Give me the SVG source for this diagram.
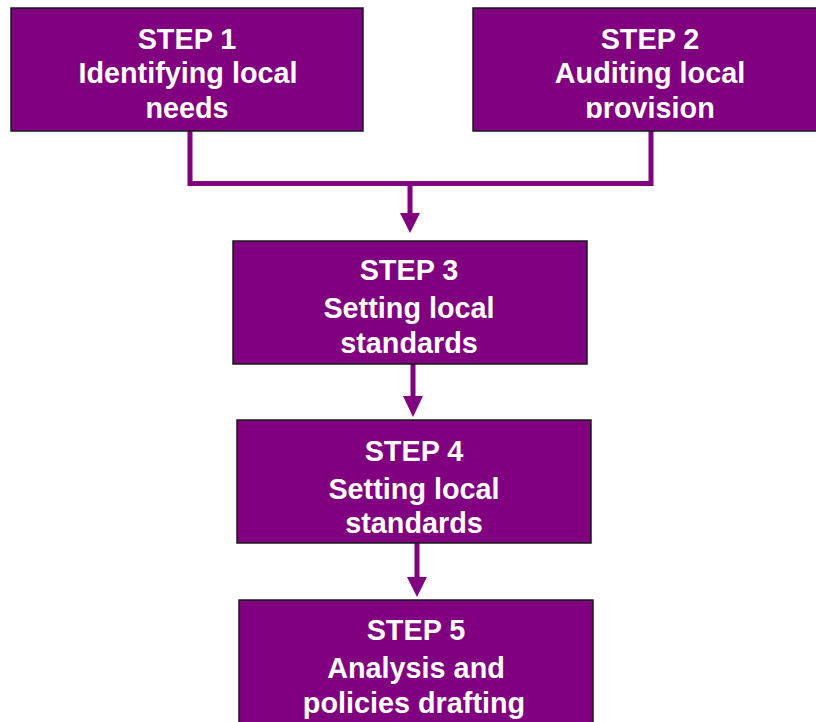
<svg xmlns="http://www.w3.org/2000/svg" width="816" height="722" viewBox="0 0 816 722">
<style>
.box{fill:#800080;stroke:#1a1a1a;stroke-width:1.5}
.t{font-family:"Liberation Sans",Arial,sans-serif;font-weight:bold;font-size:28.8px;fill:#ffffff;text-anchor:middle}
.c{fill:none;stroke:#800080;stroke-width:5}
.h{fill:#800080}
</style>
<defs>
<clipPath id="clip2"><rect x="473" y="8" width="343" height="110"/></clipPath>
</defs>
<rect width="816" height="722" fill="#ffffff"/>
<g id="connectors">
<polyline class="c" points="190,131 190,183.5 651,183.5 651,131"/>
<line class="c" x1="410" y1="183.5" x2="410" y2="214"/>
<polygon class="h" points="400,213 420,213 410,233"/>
<line class="c" x1="413" y1="364" x2="413" y2="397"/>
<polygon class="h" points="403,396 423,396 413,417"/>
<line class="c" x1="417" y1="543" x2="417" y2="578"/>
<polygon class="h" points="407,577 427,577 417,597"/>
</g>
<g id="step1">
<rect class="box" x="11" y="8" width="352" height="123"/>
<text class="t" x="187" y="49">STEP 1</text>
<text class="t" x="188" y="83">Identifying local</text>
<text class="t" x="187" y="118">needs</text>
</g>
<g id="step2">
<rect class="box" x="473" y="8" width="350" height="123"/>
<g clip-path="url(#clip2)">
<text class="t" x="650" y="49">STEP 2</text>
<text class="t" x="650" y="83">Auditing local</text>
<text class="t" x="650" y="118">provision</text>
</g>
</g>
<g id="step3">
<rect class="box" x="233" y="241" width="354" height="123"/>
<text class="t" x="409" y="280">STEP 3</text>
<text class="t" x="409" y="318">Setting local</text>
<text class="t" x="409" y="353">standards</text>
</g>
<g id="step4">
<rect class="box" x="237" y="420" width="354" height="123"/>
<text class="t" x="414" y="461">STEP 4</text>
<text class="t" x="414" y="499">Setting local</text>
<text class="t" x="414" y="533">standards</text>
</g>
<g id="step5">
<rect class="box" x="239" y="600" width="354" height="130"/>
<text class="t" x="416" y="640">STEP 5</text>
<text class="t" x="416" y="678">Analysis and</text>
<text class="t" x="414" y="713">policies drafting</text>
</g>
</svg>
